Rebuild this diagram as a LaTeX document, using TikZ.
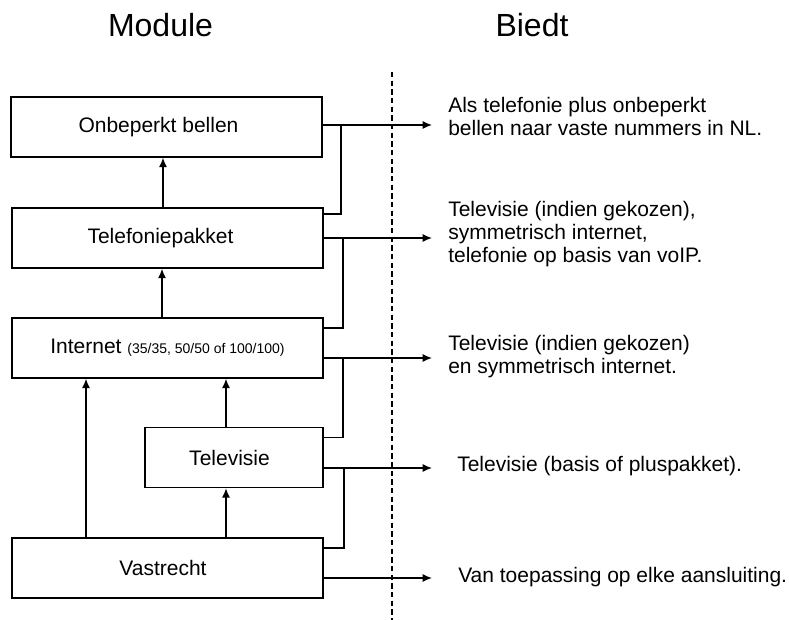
\documentclass[tikz,border=0pt]{standalone}
\usepackage{fontspec}
\setmainfont{Liberation Sans}
\usetikzlibrary{calc}
\usetikzlibrary{arrows.meta}

\begin{document}
\begin{tikzpicture}[x=0.75pt,y=-0.75pt,
	module/.style={draw, line width=1.1pt, minimum height=45pt, inner sep=0pt},
	modtext/.style={inner sep=0pt, font=\fontsize{15.75}{18}\selectfont},
	offer/.style={anchor=west, align=left, inner sep=0pt, font=\fontsize{15.75}{17.25}\selectfont},
	head/.style={font=\fontsize{24}{28}\selectfont},
	arr/.style={->,>={Latex[length=7pt,width=6pt]}, line width=1pt},
	link/.style={line width=1pt}]
	\useasboundingbox (0,0) rectangle (789,620);
	\node[head] (mod) at (160.5,25) {Module};
	\node[head] (bie) at (532,25) {Biedt};
	% boxes
	\node[module, minimum width=233.25pt] (bel) at (166.5,127) {};
	\node[module, minimum width=233.25pt] (tel) at (167.5,238) {};
	\node[module, minimum width=233.25pt] (int) at (167.5,348) {};
	\node[module, minimum width=133.5pt] (tv) at (234,457.5) {};
	\node[module, minimum width=233.25pt] (vast) at (167.5,568) {};
	\node[modtext] (belt) at ($(bel)+(-8,0)$) {Onbeperkt bellen};
	\node[modtext] (telt) at ($(tel)+(-7,0)$) {Telefoniepakket};
	\node[modtext] (intt) at (int) {Internet {\fontsize{10.5}{12}\selectfont (35/35, 50/50 of 100/100)}};
	\node[modtext] (tvt) at ($(tv)+(-4.5,0)$) {Televisie};
	\node[modtext] (vastt) at ($(vast)+(-4.5,0)$) {Vastrecht};
	\coordinate (top) at (392,72);
	\coordinate (bot) at (392,620);
	\draw[dash pattern=on 4pt off 2.5pt, line width=0.8pt] (top) -- (bot);
	\foreach \k/\y in {1/125,2/238,3/358,4/468,5/578}
		\coordinate (o\k) at (432,\y);
	\node[offer] (t1) at (448,116.5) {Als telefonie plus onbeperkt\\bellen naar vaste nummers in NL.};
	\node[offer] (t2) at (448,234) {Televisie (indien gekozen),\\symmetrisch internet,\\telefonie op basis van voIP.};
	\node[offer] (t3) at (448,357) {Televisie (indien gekozen)\\en symmetrisch internet.};
	\node[offer] (t4) at (457,466) {Televisie (basis of pluspakket).};
	\node[offer] (t5) at (458,577) {Van toepassing op elke aansluiting.};
	\foreach \b/\k in {bel/1,tel/2,int/3,tv/4,vast/5}
		\draw[arr] (o\k -| \b.east) -- (o\k);
	\foreach \lo/\k/\dy/\dx in {tel/1/-24/-91,int/2/-20/-89,tv/3/-20/-89,vast/4/-20/-88}
		\draw[link] ($(\lo.east)+(0,\dy)$) -| ($(o\k)+(\dx,0)$);
	\draw[arr] ($(tel.north)+(-4.5,0)$) -- ($(bel.south)+(-3.5,0)$);
	\draw[arr] ($(int.north)+(-5.5,0)$) -- ($(tel.south)+(-5.5,0)$);
	\draw[arr] ($(vast.north)+(-81.5,0)$) -- ($(int.south)+(-81.5,0)$);
	\draw[arr] ($(vast.north)+(58.5,0)$) -- ($(tv.south)+(-8,0)$);
	\draw[arr] ($(tv.north)+(-8,0)$) -- ($(int.south)+(58.5,0)$);
\end{tikzpicture}
\end{document}
